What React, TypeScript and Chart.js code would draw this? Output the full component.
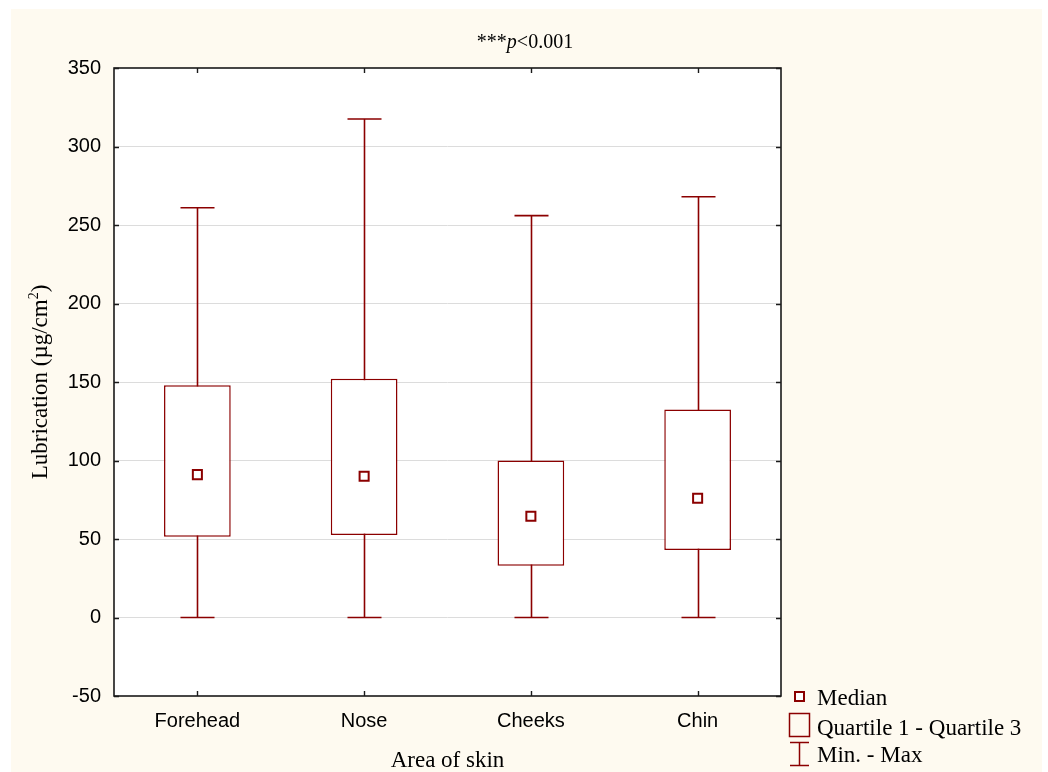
import React, { useEffect, useRef } from "react";
import { Chart, registerables } from "chart.js";

Chart.register(...registerables);

// ---- data ----
const categories = ["Forehead", "Nose", "Cheeks", "Chin"];
const minValues = [0, 0, 0, 0];
const q1Values = [51.5, 52.5, 33, 43];
const medianValues = [91, 90, 64.5, 76];
const q3Values = [148, 152, 100, 132.5];
const maxValues = [261, 317.5, 256, 268];
const yMin = -50;
const yMax = 350;
const yStep = 50;
const legendLabels = ["Median", "Quartile 1 - Quartile 3", "Min. - Max"];
const xTitle = "Area of skin";
const yTitleMain = "Lubrication (µg/cm";
const yTitleSup = "2";
const yTitleEnd = ")";
const titlePre = "***";
const titleItalic = "p";
const titlePost = "<0.001";

const RED = "#8b0000";
const CREAM = "#fefaf0";
const SERIF = "'Liberation Serif', serif";
const SANS = "'Liberation Sans', Arial, sans-serif";

const decorPlugin = {
  id: "decor",
  beforeDraw(chart: any) {
    const { ctx, width, height, chartArea: a } = chart;
    ctx.save();
    ctx.fillStyle = "#ffffff";
    ctx.fillRect(0, 0, width, height);
    ctx.fillStyle = CREAM;
    ctx.fillRect(11, 9, 1031, height - 9);
    ctx.fillStyle = "#ffffff";
    ctx.fillRect(a.left, a.top, a.right - a.left, a.bottom - a.top);
    ctx.restore();
  },
  beforeDatasetsDraw(chart: any) {
    const { ctx } = chart;
    const x = chart.scales.x;
    const y = chart.scales.y;
    const catW = x.getPixelForValue(1) - x.getPixelForValue(0);
    const capHalf = catW * 0.102;
    ctx.save();
    ctx.strokeStyle = RED;
    ctx.lineWidth = 1.6;
    categories.forEach((_, i) => {
      const cx = Math.round(x.getPixelForValue(i)) + 0.5;
      const yMinP = y.getPixelForValue(minValues[i]);
      const yMaxP = y.getPixelForValue(maxValues[i]);
      ctx.beginPath();
      ctx.moveTo(cx, yMinP);
      ctx.lineTo(cx, yMaxP);
      ctx.moveTo(cx - capHalf, yMinP);
      ctx.lineTo(cx + capHalf, yMinP);
      ctx.moveTo(cx - capHalf, yMaxP);
      ctx.lineTo(cx + capHalf, yMaxP);
      ctx.stroke();
    });
    ctx.restore();
  },
  afterDraw(chart: any) {
    const { ctx, chartArea: a } = chart;
    const x = chart.scales.x;
    const y = chart.scales.y;
    ctx.save();
    // frame
    ctx.strokeStyle = "#1a1a1a";
    ctx.lineWidth = 1.6;
    ctx.strokeRect(a.left, a.top, a.right - a.left, a.bottom - a.top);
    // inward ticks
    ctx.lineWidth = 1.4;
    ctx.beginPath();
    y.ticks.forEach((t: any) => {
      const py = Math.round(y.getPixelForValue(t.value)) + 0.5;
      ctx.moveTo(a.left, py);
      ctx.lineTo(a.left + 5, py);
      ctx.moveTo(a.right, py);
      ctx.lineTo(a.right - 5, py);
    });
    categories.forEach((_, i) => {
      const px = Math.round(x.getPixelForValue(i)) + 0.5;
      ctx.moveTo(px, a.bottom);
      ctx.lineTo(px, a.bottom - 5);
      ctx.moveTo(px, a.top);
      ctx.lineTo(px, a.top + 5);
    });
    ctx.stroke();

    ctx.fillStyle = "#000";
    ctx.textBaseline = "alphabetic";
    // title
    const tSize = 20;
    ctx.font = `${tSize}px ${SERIF}`;
    const w1 = ctx.measureText(titlePre).width;
    const w3 = ctx.measureText(titlePost).width;
    ctx.font = `italic ${tSize}px ${SERIF}`;
    const w2 = ctx.measureText(titleItalic).width;
    let tx = 525 - (w1 + w2 + w3) / 2;
    const ty = 48;
    ctx.font = `${tSize}px ${SERIF}`;
    ctx.textAlign = "left";
    ctx.fillText(titlePre, tx, ty);
    tx += w1;
    ctx.font = `italic ${tSize}px ${SERIF}`;
    ctx.fillText(titleItalic, tx, ty);
    tx += w2;
    ctx.font = `${tSize}px ${SERIF}`;
    ctx.fillText(titlePost, tx, ty);

    // x title
    ctx.font = `23px ${SERIF}`;
    ctx.textAlign = "center";
    ctx.fillText(xTitle, (a.left + a.right) / 2, 767);

    // y title (rotated)
    ctx.save();
    ctx.translate(47, (a.top + a.bottom) / 2);
    ctx.rotate(-Math.PI / 2);
    ctx.textAlign = "left";
    ctx.font = `23px ${SERIF}`;
    const m1 = ctx.measureText(yTitleMain).width;
    const m3 = ctx.measureText(yTitleEnd).width;
    ctx.font = `14px ${SERIF}`;
    const m2 = ctx.measureText(yTitleSup).width;
    let sx = -(m1 + m2 + m3) / 2;
    ctx.font = `23px ${SERIF}`;
    ctx.fillText(yTitleMain, sx, 0);
    sx += m1;
    ctx.font = `14px ${SERIF}`;
    ctx.fillText(yTitleSup, sx, -9);
    sx += m2;
    ctx.font = `23px ${SERIF}`;
    ctx.fillText(yTitleEnd, sx, 0);
    ctx.restore();

    // legend
    ctx.strokeStyle = RED;
    ctx.lineWidth = 2;
    ctx.fillStyle = "#fff";
    ctx.fillRect(795, 692, 9, 9);
    ctx.strokeRect(795, 692, 9, 9);
    ctx.lineWidth = 1.5;
    ctx.strokeRect(789.5, 713.5, 20, 23);
    ctx.beginPath();
    ctx.moveTo(799.5, 742.5);
    ctx.lineTo(799.5, 765.5);
    ctx.moveTo(790, 742.5);
    ctx.lineTo(809, 742.5);
    ctx.moveTo(790, 765.5);
    ctx.lineTo(809, 765.5);
    ctx.stroke();
    ctx.fillStyle = "#000";
    ctx.font = `23px ${SERIF}`;
    ctx.textAlign = "left";
    ctx.fillText(legendLabels[0], 817, 705);
    ctx.fillText(legendLabels[1], 817, 735);
    ctx.fillText(legendLabels[2], 817, 762);
    ctx.restore();
  },
};

export default function App() {
  const ref = useRef<HTMLCanvasElement | null>(null);
  useEffect(() => {
    if (!ref.current) return;
    const chart = new Chart(ref.current, {
      type: "bar",
      data: {
        labels: categories,
        datasets: [
          {
            type: "line",
            label: "Median",
            data: medianValues,
            showLine: false,
            pointStyle: "rect",
            pointRadius: 6.4,
            pointBorderWidth: 2,
            pointBackgroundColor: "#ffffff",
            pointBorderColor: RED,
            order: 1,
          } as any,
          {
            type: "bar",
            label: "Quartile 1 - Quartile 3",
            data: q1Values.map((v, i) => [v, q3Values[i]]),
            backgroundColor: "#ffffff",
            borderColor: RED,
            borderWidth: 1.5,
            borderSkipped: false,
            categoryPercentage: 1,
            barPercentage: 0.4,
            order: 2,
          } as any,
        ],
      },
      options: {
        animation: false,
        responsive: false,
        events: [],
        layout: { padding: { top: 68, right: 267, left: 0, bottom: 0 } },
        plugins: {
          legend: { display: false },
          title: { display: false },
          tooltip: { enabled: false },
        },
        scales: {
          x: {
            type: "category",
            offset: true,
            grid: { display: false, drawTicks: false },
            border: { display: false },
            ticks: {
              color: "#000",
              padding: 13,
              font: { family: SANS, size: 20 },
              maxRotation: 0,
            },
            afterFit: (s: any) => {
              s.height = 76;
            },
          },
          y: {
            min: yMin,
            max: yMax,
            grid: {
              drawTicks: false,
              lineWidth: 1,
              color: (c: any) =>
                c.tick && (c.tick.value === yMin || c.tick.value === yMax)
                  ? "rgba(0,0,0,0)"
                  : "#dcdcdc",
            },
            border: { display: false },
            ticks: {
              stepSize: yStep,
              color: "#000",
              padding: 13,
              font: { family: SANS, size: 20 },
            },
            afterFit: (s: any) => {
              s.width = 114;
            },
          },
        },
      },
      plugins: [decorPlugin],
    });
    return () => chart.destroy();
  }, []);
  return (
    <div style={{ position: "absolute", left: 0, top: 0, width: 1048, height: 772 }}>
      <canvas ref={ref} width={1048} height={772} style={{ width: 1048, height: 772, display: "block" }} />
    </div>
  );
}
